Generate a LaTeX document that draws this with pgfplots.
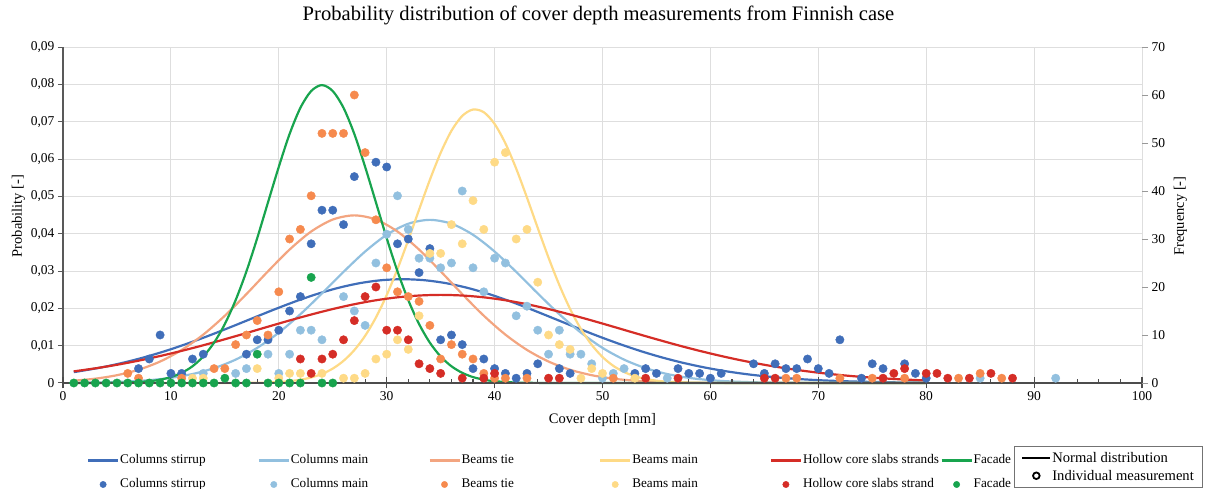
\documentclass[border=0pt]{standalone}
\usepackage{fontspec}
\setmainfont{Liberation Serif}
\usepackage{pgfplots}
\pgfplotsset{compat=1.18}
\definecolor{cS}{RGB}{64,110,185}
\definecolor{cM}{RGB}{146,192,223}
\definecolor{cT}{RGB}{243,165,128}
\definecolor{cTd}{RGB}{246,138,78}
\definecolor{cB}{RGB}{254,218,134}
\definecolor{cH}{RGB}{213,45,38}
\definecolor{cF}{RGB}{24,164,78}
\newcommand{\lgbox}[1]{\makebox[138.5pt][l]{\hspace{1pt}#1}}
\begin{document}
\begin{tikzpicture}
\pgfplotsset{every axis/.append style={scale only axis, width=1079pt, height=336pt, at={(0pt,0pt)}, anchor=south west, xmin=0, xmax=100}}
% ---------- Axis A: probability, grid, normal curves
\begin{axis}[
  ymin=0, ymax=0.09,
  scaled y ticks=false, scaled x ticks=false,
  axis x line*=bottom, axis y line*=left,
  x axis line style={draw=none},
  y axis line style={draw=black!65, line width=1.4pt},
  xtick={0,10,20,30,40,50,60,70,80,90,100},
  xticklabels={0,10,20,30,40,50,60,70,80,90,100},
  xtick style={draw=none},
  ytick={0,0.01,0.02,0.03,0.04,0.05,0.06,0.07,0.08,0.09},
  yticklabels={0,{0,01},{0,02},{0,03},{0,04},{0,05},{0,06},{0,07},{0,08},{0,09}},
  tick align=outside, major tick length=5pt,
  ytick style={draw=black!65, line width=1pt},
  grid=major, major grid style={draw=black!13, line width=0.9pt},
  tick label style={font=\fontsize{13.5}{16}\selectfont},
  clip=false,
]
\addplot[cS, line width=2.2pt, smooth] coordinates {(1,0.00291)(3.5,0.00414)(5.5,0.00538)(7.5,0.00686)(9.5,0.00858)(11.5,0.01053)(13.5,0.01266)(15.5,0.01493)(17.5,0.01727)(19.5,0.01960)(21.5,0.02181)(23.5,0.02380)(25.5,0.02547)(27.5,0.02674)(29.5,0.02753)(31.5,0.02780)(33.5,0.02753)(35.5,0.02674)(37.5,0.02547)(39.5,0.02380)(41.5,0.02181)(43.5,0.01960)(45.5,0.01727)(47.5,0.01493)(49.5,0.01266)(51.5,0.01053)(53.5,0.00858)(55.5,0.00686)(57.5,0.00538)(59.5,0.00414)(61.5,0.00312)(63.5,0.00231)(65.5,0.00168)(67.5,0.00120)(69.5,0.00083)(71.5,0.00057)(73.5,0.00038)(75.5,0.00025)(77.5,0.00016)(80,0.00009)};
\addplot[cM, line width=2.2pt, smooth] coordinates {(1,0.00006)(2,0.00009)(4,0.00020)(6,0.00040)(8,0.00076)(10,0.00138)(12,0.00240)(14,0.00397)(16,0.00626)(18,0.00941)(20,0.01349)(22,0.01842)(24,0.02399)(26,0.02977)(28,0.03521)(30,0.03970)(32,0.04266)(34,0.04370)(36,0.04266)(38,0.03970)(40,0.03521)(42,0.02977)(44,0.02399)(46,0.01842)(48,0.01349)(50,0.00941)(52,0.00626)(54,0.00397)(56,0.00240)(58,0.00138)(60,0.00076)(62,0.00040)(64,0.00020)(66,0.00009)(68,0.00004)(70,0.00002)(75,0)(80,0)};
\addplot[cT, line width=2.2pt, smooth] coordinates {(1,0.00062)(3,0.00116)(5,0.00209)(7,0.00355)(9,0.00575)(11,0.00886)(13,0.01296)(15,0.01802)(17,0.02382)(19,0.02992)(21,0.03574)(23,0.04057)(25,0.04378)(27,0.04490)(29,0.04378)(31,0.04057)(33,0.03574)(35,0.02992)(37,0.02382)(39,0.01802)(41,0.01296)(43,0.00886)(45,0.00575)(47,0.00355)(49,0.00209)(51,0.00116)(53,0.00062)(55,0.00031)(57,0.00015)(59,0.00007)(61,0.00003)(65,0)(80,0)};
\addplot[cB, line width=2.2pt, smooth] coordinates {(1,0)(10,0)(15,0.00001)(18,0.00007)(19,0.00014)(20,0.00027)(21,0.00049)(22,0.00087)(23,0.00148)(24,0.00243)(25,0.00386)(26,0.00594)(27,0.00881)(28,0.01264)(29,0.01754)(30,0.02354)(31,0.03053)(32,0.03829)(33,0.04642)(34,0.05441)(35,0.06165)(36,0.06755)(37,0.07154)(38,0.07325)(39,0.07252)(40,0.06939)(41,0.06420)(42,0.05743)(43,0.04967)(44,0.04152)(45,0.03356)(46,0.02623)(47,0.01981)(48,0.01447)(49,0.01022)(50,0.00697)(51,0.00460)(52,0.00294)(53,0.00181)(54,0.00108)(55,0.00062)(56,0.00035)(58,0.00010)(60,0.00002)(65,0)(80,0)};
\addplot[cH, line width=2.2pt, smooth] coordinates {(1,0.00312)(3,0.00393)(5,0.00488)(7,0.00598)(9,0.00723)(11,0.00861)(13,0.01011)(15,0.01172)(17,0.01338)(19,0.01508)(21,0.01675)(23,0.01834)(25,0.01981)(27,0.02110)(29,0.02216)(31,0.02295)(33,0.02343)(35,0.02360)(37,0.02343)(39,0.02295)(41,0.02216)(43,0.02110)(45,0.01981)(47,0.01834)(49,0.01675)(51,0.01508)(53,0.01338)(55,0.01172)(57,0.01011)(59,0.00861)(61,0.00723)(63,0.00598)(65,0.00488)(67,0.00393)(69,0.00312)(71,0.00244)(73,0.00188)(75,0.00143)(77,0.00108)(79,0.00080)(80,0.00068)};
\addplot[cF, line width=2.2pt, smooth] coordinates {(1,0)(4,0.00003)(6,0.00012)(8,0.00048)(9,0.00089)(10,0.00158)(11,0.00272)(12,0.00448)(13,0.00710)(14,0.01080)(15,0.01580)(16,0.02220)(17,0.02990)(18,0.03880)(19,0.04840)(20,0.05790)(21,0.06670)(22,0.07370)(23,0.07820)(24,0.07980)(25,0.07820)(26,0.07370)(27,0.06670)(28,0.05790)(29,0.04840)(30,0.03880)(31,0.02990)(32,0.02220)(33,0.01580)(34,0.01080)(35,0.00710)(36,0.00448)(37,0.00272)(38,0.00158)(39,0.00089)(40,0.00048)(42,0.00012)(44,0.00003)(48,0)(80,0)};
\end{axis}
% ---------- Axis C: x axis line with crossing ticks
\begin{axis}[
  ymin=0, ymax=1,
  axis x line*=bottom, axis y line=none,
  x axis line style={draw=black!70, line width=1.4pt},
  xtick={0,10,20,30,40,50,60,70,80,90,100}, xticklabels={},
  minor x tick num=4,
  tick align=center, major tick length=11pt, minor tick length=4pt,
  xtick style={draw=black!70, line width=1.1pt},
  every minor tick/.append style={yshift=2pt, line width=0.8pt},
]
\end{axis}
% ---------- Axis B: frequency, individual measurements, legend
\begin{axis}[
  ymin=0, ymax=70,
  axis x line=none, axis y line*=right,
  y axis line style={draw=none},
  ytick={0,10,20,30,40,50,60,70},
  yticklabels={0,10,20,30,40,50,60,70},
  tick align=outside, major tick length=6pt,
  ytick style={draw=black!40, line width=0.8pt},
  tick label style={font=\fontsize{13.5}{16}\selectfont},
  clip=false,
  legend columns=6,
  legend style={at={(axis description cs:0.02224,-0.2113)}, anchor=north west,
    draw=none, fill=none, inner sep=0pt, outer sep=0pt,
    /tikz/column sep=0pt, /tikz/row sep=11pt,
    font=\fontsize{13.2}{15}\selectfont,
    nodes={inner sep=0pt, text height=9.5pt, text depth=3.5pt}},
  legend cell align=left,
]
\addlegendimage{legend image code/.code={\draw[cS,line width=2.2pt] (0pt,0pt)--(30pt,0pt);}}
\addlegendentry{\lgbox{Columns stirrup}}
\addlegendimage{legend image code/.code={\draw[cM,line width=2.2pt] (0pt,0pt)--(30pt,0pt);}}
\addlegendentry{\lgbox{Columns main}}
\addlegendimage{legend image code/.code={\draw[cT,line width=2.2pt] (0pt,0pt)--(30pt,0pt);}}
\addlegendentry{\lgbox{Beams tie}}
\addlegendimage{legend image code/.code={\draw[cB,line width=2.2pt] (0pt,0pt)--(30pt,0pt);}}
\addlegendentry{\lgbox{Beams main}}
\addlegendimage{legend image code/.code={\draw[cH,line width=2.2pt] (0pt,0pt)--(30pt,0pt);}}
\addlegendentry{\lgbox{Hollow core slabs strands}}
\addlegendimage{legend image code/.code={\draw[cF,line width=2.2pt] (0pt,0pt)--(30pt,0pt);}}
\addlegendentry{\hspace{1pt}Facade}
\addplot[only marks, mark=*, mark size=4.2pt, color=cS,
  legend image code/.code={\fill[cS] (15pt,0pt) circle (3.2pt);}] coordinates {
(7,3)(8,5)(9,10)(10,2)(11,2)(12,5)(13,6)(17,6)(18,9)(19,9)(20,11)(21,15)(22,18)(23,29)(24,36)(25,36)(26,33)(27,43)(29,46)(30,45)(31,29)(32,30)(33,23)(34,28)(35,9)(36,10)(37,8)(38,3)(39,5)(40,3)(41,2)(42,1)(43,2)(44,4)(46,3)(47,2)(53,2)(54,3)(55,2)(57,3)(58,2)(59,2)(60,1)(61,2)(64,4)(65,2)(66,4)(67,3)(68,3)(69,5)(70,3)(71,2)(72,9)(74,1)(75,4)(76,3)(78,4)(79,2)(80,1)};
\addlegendentry{\lgbox{Columns stirrup}}
\addplot[only marks, mark=*, mark size=4.2pt, color=cM,
  legend image code/.code={\fill[cM] (15pt,0pt) circle (3.2pt);}] coordinates {
(13,2)(16,2)(17,3)(19,6)(20,2)(21,6)(22,11)(23,11)(24,9)(26,18)(27,15)(28,12)(29,25)(30,31)(31,39)(32,32)(33,26)(34,26)(35,24)(36,25)(37,40)(38,24)(39,19)(40,26)(41,25)(42,14)(43,16)(44,11)(45,6)(46,11)(47,6)(48,6)(49,4)(50,1)(51,2)(52,3)(56,1)(85,1)(92,1)};
\addlegendentry{\lgbox{Columns main}}
\addplot[only marks, mark=*, mark size=4.2pt, color=cTd,
  legend image code/.code={\fill[cTd] (15pt,0pt) circle (3.2pt);}] coordinates {
(6,2)(7,1)(11,1)(14,3)(15,3)(16,8)(17,10)(18,13)(19,10)(20,19)(21,30)(22,32)(23,39)(24,52)(25,52)(26,52)(27,60)(28,48)(29,34)(30,24)(31,19)(32,18)(33,17)(34,12)(35,5)(36,8)(37,6)(38,5)(39,2)(40,1)(41,1)(43,1)(51,1)(67,1)(68,1)(72,1)(75,1)(78,1)(83,1)(85,2)(87,1)};
\addlegendentry{\lgbox{Beams tie}}
\addplot[only marks, mark=*, mark size=4.2pt, color=cB,
  legend image code/.code={\fill[cB] (15pt,0pt) circle (3.2pt);}] coordinates {
(12,1)(13,1)(18,3)(20,1)(21,2)(22,2)(24,2)(26,1)(27,1)(28,2)(29,5)(30,6)(31,9)(32,7)(33,14)(34,27)(35,27)(36,33)(37,29)(38,38)(39,32)(40,46)(41,48)(42,30)(43,32)(44,21)(45,10)(46,8)(47,7)(48,1)(49,3)(50,2)(53,1)};
\addlegendentry{\lgbox{Beams main}}
\addplot[only marks, mark=*, mark size=4.2pt, color=cH,
  legend image code/.code={\fill[cH] (15pt,0pt) circle (3.2pt);}] coordinates {
(22,5)(23,2)(24,5)(25,6)(26,9)(27,13)(28,18)(29,20)(30,11)(31,11)(32,9)(33,4)(34,3)(35,2)(37,1)(39,1)(40,2)(45,1)(46,1)(54,1)(57,1)(65,1)(66,1)(76,1)(77,2)(78,3)(80,2)(81,2)(82,1)(84,1)(86,2)(88,1)};
\addlegendentry{\lgbox{Hollow core slabs strand}}
\addplot[only marks, mark=*, mark size=4.2pt, color=cF,
  legend image code/.code={\fill[cF] (15pt,0pt) circle (3.2pt);}] coordinates {
(1,0)(2,0)(3,0)(4,0)(5,0)(6,0)(7,0)(8,0)(9,0)(10,0)(11,0)(12,0)(13,0)(14,0)(15,1)(16,0)(17,0)(18,6)(19,0)(20,0)(21,0)(22,0)(23,22)(24,0)(25,0)};
\addlegendentry{\hspace{1pt}Facade}
\end{axis}
% ---------- Axis D: type legend (box)
\begin{axis}[
  ymin=0, ymax=1, hide axis,
  legend style={at={(axis description cs:0.8814,-0.1875)}, anchor=north west,
    draw=black!55, line width=0.6pt, fill=white, inner xsep=7pt, inner ysep=5pt,
    font=\fontsize{14.6}{17}\selectfont, /tikz/row sep=4pt,
    nodes={inner sep=1pt}},
  legend cell align=left,
]
\addlegendimage{legend image code/.code={\draw[black,line width=2pt] (0pt,0pt)--(28pt,0pt);}}
\addlegendentry{Normal distribution}
\addlegendimage{legend image code/.code={\draw[black,line width=1.8pt] (14pt,0pt) circle (3.3pt);}}
\addlegendentry{Individual measurement}
\end{axis}
% ---------- titles and axis labels
\node[font=\fontsize{20.6}{24}\selectfont] at (535.5pt,368pt) {Probability distribution of cover depth measurements from Finnish case};
\node[font=\fontsize{14.5}{17}\selectfont] at (539.5pt,-37pt) {Cover depth [mm]};
\node[font=\fontsize{14.5}{17}\selectfont, rotate=90] at (-44.5pt,167pt) {Probability [-]};
\node[font=\fontsize{14.5}{17}\selectfont, rotate=90] at (1117.5pt,167pt) {Frequency [-]};
\pgfresetboundingbox
\path[use as bounding box] (-63pt,-106pt) rectangle (1144pt,383pt);
\end{tikzpicture}
\end{document}
